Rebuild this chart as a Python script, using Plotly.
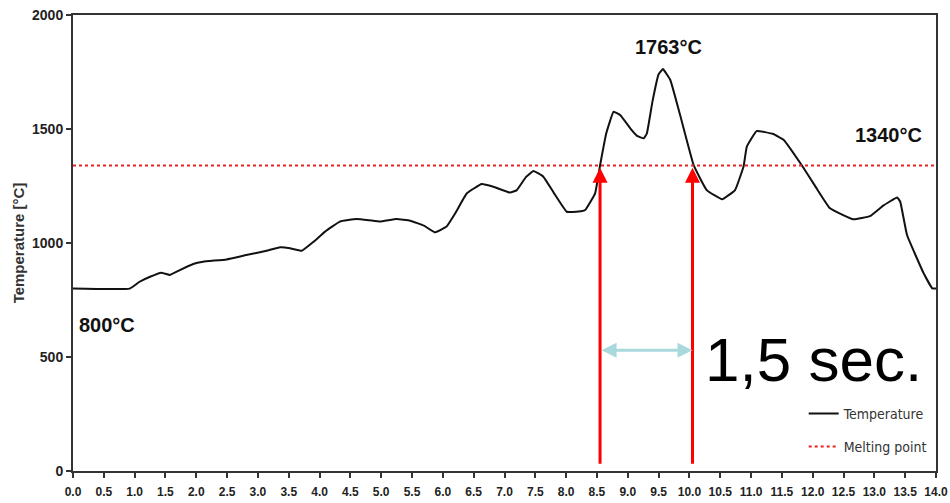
import plotly.graph_objects as go

# Temperature profile over time
time_s = [0.0, 0.92, 1.08, 1.25, 1.43, 1.57, 1.70, 1.95, 2.11, 2.49, 2.81, 3.14, 3.36, 3.52,
          3.71, 3.90, 4.09, 4.33, 4.60, 4.80, 4.98, 5.25, 5.47, 5.70, 5.87, 6.06, 6.20,
          6.39, 6.63, 6.82, 7.09, 7.20, 7.35, 7.47, 7.63, 7.80, 8.01, 8.20, 8.31, 8.47,
          8.55, 8.65, 8.77, 8.88, 9.04, 9.15, 9.26, 9.31, 9.40, 9.50, 9.57, 9.69, 9.85,
          10.07, 10.28, 10.53, 10.74, 10.88, 10.93, 11.09, 11.36, 11.53, 11.82, 12.05,
          12.28, 12.66, 12.93, 13.15, 13.37, 13.42, 13.53, 13.80, 13.94, 14.0]
temperature = [800, 800, 830, 852, 870, 860, 877, 908, 918, 928, 947, 966, 981, 977,
               966, 1005, 1050, 1094, 1105, 1100, 1094, 1105, 1098, 1075, 1047, 1072, 1130,
               1218, 1259, 1247, 1221, 1232, 1290, 1316, 1291, 1220, 1137, 1138, 1145, 1218,
               1340, 1480, 1576, 1560, 1503, 1470, 1459, 1481, 1620, 1740, 1763, 1715, 1560,
               1340, 1232, 1192, 1232, 1338, 1422, 1491, 1478, 1452, 1342, 1245,
               1152, 1104, 1118, 1165, 1200, 1181, 1035, 867, 801, 800]

melting_point = 1340
start_temp = 800
peak_temp = 1763
above_melt_start = 8.55
above_melt_end = 10.05
duration_label = "1,5 sec."

x_ticks = [i * 0.5 for i in range(29)]
y_ticks = [0, 500, 1000, 1500, 2000]

narrow = "DejaVu Sans Condensed, sans-serif"
sans = "Liberation Sans, Arial, sans-serif"

fig = go.Figure()
fig.add_trace(go.Scatter(
    x=time_s, y=temperature, mode="lines", name="Temperature", legendgroup="t",
    line=dict(color="#111111", width=2, shape="spline", smoothing=0.3),
))
fig.add_trace(go.Scatter(
    x=[0, 14], y=[melting_point, melting_point], mode="lines", name="Melting point",
    legendgroup="m", line=dict(color="#e8231f", width=2, dash="dot"),
))

annotations = []
# red arrows marking when the curve crosses the melting point
for xv in (above_melt_start, above_melt_end):
    annotations.append(dict(
        x=xv, y=melting_point - 10, ax=xv, ay=25, xref="x", yref="y", axref="x", ayref="y",
        showarrow=True, arrowhead=2, arrowsize=1, arrowwidth=3, arrowcolor="#ff0000", text="",
    ))
# duration above the melting point
annotations.append(dict(
    x=above_melt_end, y=530, ax=above_melt_start, ay=530, xref="x", yref="y",
    axref="x", ayref="y", showarrow=True, arrowhead=2, startarrowhead=2,
    arrowside="end+start", arrowsize=1, startarrowsize=1, arrowwidth=3,
    arrowcolor="#a9d9dd", text="",
))
annotations.append(dict(
    x=13.8, y=487, xref="x", yref="y", text=duration_label, showarrow=False,
    xanchor="right", yanchor="middle", font=dict(family=sans, size=62, color="#000000"),
))
label_font = dict(family=sans, size=20, color="#111111", weight="bold")
annotations.append(dict(
    x=0.07, y=640, xref="x", yref="y", text=f"{start_temp}°C", showarrow=False,
    xanchor="left", yanchor="middle", font=label_font,
))
annotations.append(dict(
    x=9.09, y=1860, xref="x", yref="y", text=f"{peak_temp}°C", showarrow=False,
    xanchor="left", yanchor="middle", font=label_font,
))
annotations.append(dict(
    x=13.8, y=1474, xref="x", yref="y", text=f"{melting_point}°C", showarrow=False,
    xanchor="right", yanchor="middle", font=label_font,
))

fig.update_layout(
    width=950, height=503,
    margin=dict(l=73, r=14, t=15, b=32, autoexpand=False),
    paper_bgcolor="white", plot_bgcolor="white",
    annotations=annotations,
    showlegend=True,
    legend=dict(
        x=0.995, y=0.018, xanchor="right", yanchor="bottom", traceorder="grouped",
        bgcolor="rgba(0,0,0,0)", font=dict(family=narrow, size=14, color="#333333"),
        tracegroupgap=12, itemwidth=30,
    ),
)
fig.update_xaxes(
    range=[0, 14], tickvals=x_ticks, ticktext=[f"{v:.1f}" for v in x_ticks], tickangle=0,
    automargin=False, showgrid=False, zeroline=False, showline=True, mirror=True,
    linecolor="#333333", linewidth=2, ticks="outside", ticklen=5, tickwidth=2,
    ticklabelstandoff=4,
    tickcolor="#333333", tickfont=dict(family=sans, size=12, color="#222222", weight="bold"),
)
fig.update_yaxes(
    range=[0, 2000], tickvals=y_ticks, automargin=False,
    showgrid=False, zeroline=False, showline=True, mirror=True,
    linecolor="#333333", linewidth=2, ticks="outside", ticklen=5, tickwidth=2,
    tickcolor="#333333", tickfont=dict(family=sans, size=14, color="#222222", weight="bold"),
    title=dict(text="Temperature [°C]", standoff=4,
               font=dict(family=sans, size=15, color="#333333", weight="bold")),
)

fig.write_html("out.html")
